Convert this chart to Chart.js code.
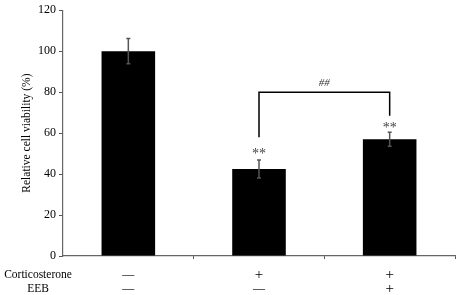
<!DOCTYPE html>
<html>
<head>
<meta charset="utf-8">
<script src="https://cdn.jsdelivr.net/npm/chart.js@4"></script>
<style>
  html, body { margin: 0; padding: 0; background: #fff; }
  #wrap { width: 459px; height: 295px; }
</style>
</head>
<body>
<div id="wrap"><canvas id="myChart"></canvas></div>
<script>
// data
const groups = ['Control', 'Corticosterone', 'Corticosterone + EEB'];
const viability = [100, 42.5, 57];
const errors = [6.2, 4.4, 3.4];
const corticosteroneRow = ['\u2014', '+', '+'];
const eebRow = ['\u2014', '\u2014', '+'];
const stars = ['', '**', '**'];
const starLevel = [0, 51, 64];
const bracketLevel = 80;
const bracketLegs = [58, 68.5];
const bracketLabel = '##';

const serif = '"Liberation Serif", "Times New Roman", serif';

// error bars, significance marks and treatment table
const extras = {
  id: 'extras',
  afterDatasetsDraw(chart) {
    const c = chart.ctx;
    const x = chart.scales.x;
    const y = chart.scales.y;
    c.save();

    // error bars
    c.strokeStyle = '#555';
    c.lineWidth = 1.5;
    viability.forEach((v, i) => {
      const px = x.getPixelForValue(i);
      const top = y.getPixelForValue(v + errors[i]);
      const bot = y.getPixelForValue(v - errors[i]);
      c.beginPath();
      c.moveTo(px, top); c.lineTo(px, bot);
      c.moveTo(px - 2, top); c.lineTo(px + 2, top);
      c.moveTo(px - 2, bot); c.lineTo(px + 2, bot);
      c.stroke();
    });

    // asterisks
    c.fillStyle = '#444';
    c.font = '14px ' + serif;
    c.textAlign = 'center';
    c.textBaseline = 'middle';
    stars.forEach((s, i) => {
      if (!s) return;
      c.fillText(s, x.getPixelForValue(i), y.getPixelForValue(starLevel[i]) + 3);
    });

    // bracket between groups 2 and 3
    const x1 = x.getPixelForValue(1);
    const x2 = x.getPixelForValue(2);
    const by = y.getPixelForValue(bracketLevel);
    c.strokeStyle = '#000';
    c.lineWidth = 1.5;
    c.beginPath();
    c.moveTo(x1, y.getPixelForValue(bracketLegs[0]));
    c.lineTo(x1, by);
    c.lineTo(x2, by);
    c.lineTo(x2, y.getPixelForValue(bracketLegs[1]));
    c.stroke();
    c.fillStyle = '#333';
    c.font = 'italic 11px ' + serif;
    c.fillText(bracketLabel, (x1 + x2) / 2, by - 9);

    // treatment rows under the axis
    c.fillStyle = '#000';
    c.font = '11.5px ' + serif;
    c.fillText('Corticosterone', 38, 275);
    c.fillText('EEB', 38, 289);
    groups.forEach((g, i) => {
      const px = x.getPixelForValue(i);
      c.font = (corticosteroneRow[i] === '+' ? '15px ' : '12px ') + serif;
      c.fillText(corticosteroneRow[i], px, 275);
      c.font = (eebRow[i] === '+' ? '15px ' : '12px ') + serif;
      c.fillText(eebRow[i], px, 289);
    });

    c.restore();
  }
};

const ctx = document.getElementById('myChart').getContext('2d');

const myChart = new Chart(ctx, {
  type: 'bar',
  data: {
    labels: groups,
    datasets: [{
      data: viability,
      backgroundColor: '#000',
      borderWidth: 0,
      categoryPercentage: 1,
      barPercentage: 0.41
    }]
  },
  options: {
    responsive: true,
    maintainAspectRatio: false,
    animation: false,
    layout: { padding: { left: 0, right: 4, top: 0, bottom: 36 } },
    plugins: {
      legend: { display: false },
      tooltip: { enabled: false }
    },
    scales: {
      x: {
        offset: true,
        grid: {
          offset: true,
          drawOnChartArea: false,
          drawTicks: true,
          tickLength: 3,
          color: (c) => (c.index === 0 || c.index === groups.length) ? 'rgba(0,0,0,0)' : '#555'
        },
        border: { color: '#666', width: 1.2 },
        ticks: { display: false }
      },
      y: {
        min: 0,
        max: 120,
        ticks: {
          stepSize: 20,
          color: '#000',
          font: { family: serif, size: 12 },
          padding: 3
        },
        grid: {
          drawOnChartArea: false,
          drawTicks: true,
          tickLength: 4,
          color: '#555'
        },
        border: { color: '#666', width: 1.2 },
        title: {
          display: true,
          text: 'Relative cell viability (%)',
          color: '#000',
          font: { family: serif, size: 11.5 },
          padding: { top: 20, bottom: 0 }
        },
        afterFit(scale) { scale.width = 63; }
      }
    }
  },
  plugins: [extras]
});
</script>
</body>
</html>
